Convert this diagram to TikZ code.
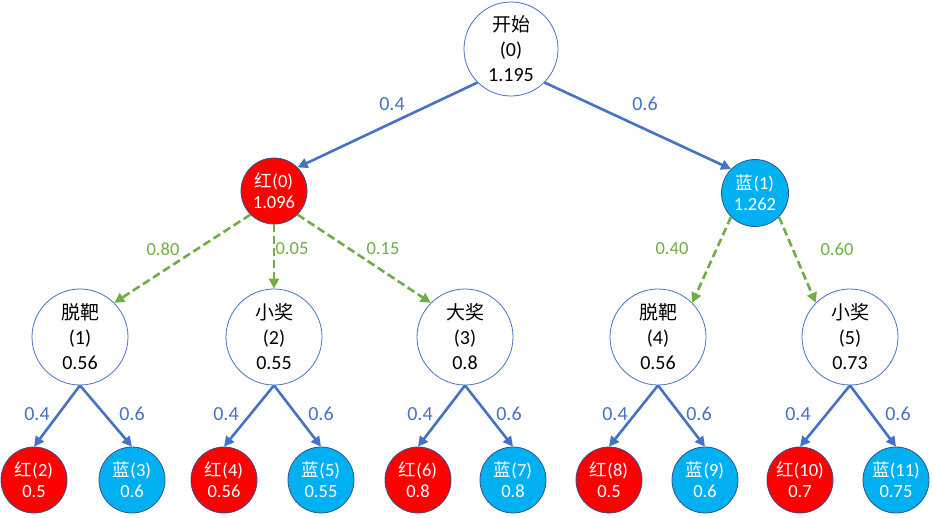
\documentclass[tikz,border=0pt]{standalone}
\usepackage{fontspec}
\setmainfont{Carlito}
\newfontfamily\cjk{Noto Sans CJK SC}[Scale=0.95]
\usetikzlibrary{arrows.meta}
\definecolor{edgeblue}{HTML}{4472C4}
\definecolor{edgegreen}{HTML}{70AD47}
\definecolor{redfill}{HTML}{FF0000}
\definecolor{bluefill}{HTML}{00B0F0}
\definecolor{rimdark}{HTML}{2F528F}
\begin{document}
\begin{tikzpicture}[x=1pt,y=-1pt,
  state/.style={circle, draw=edgeblue, line width=0.8pt, fill=white, inner sep=0pt,
    minimum size=#1, align=center, text=black, font=\fontsize{20}{25}\selectfont},
  state/.default=96pt,
  pick/.style={circle, draw=rimdark, line width=0.8pt, inner sep=0pt,
    minimum size=#1, align=center, text=white, font=\fontsize{18.5}{21}\selectfont},
  pick/.default=66pt,
  redball/.style={pick=#1, fill=redfill},
  redball/.default=66pt,
  blueball/.style={pick=#1, fill=bluefill},
  blueball/.default=66pt,
  solidedge/.style={draw=edgeblue, line width=2.6pt, -{Triangle[length=10pt,width=10pt]}},
  dashedge/.style={draw=edgegreen, line width=2.6pt, dash pattern=on 8pt off 4pt,
    -{Triangle[length=10pt,width=10pt]}},
  bluelbl/.style={text=edgeblue, font=\fontsize{20}{24}\selectfont, inner sep=0pt},
  greenlbl/.style={text=edgegreen, font=\fontsize{18.5}{22}\selectfont, inner sep=0pt},
]
\useasboundingbox (0,0) rectangle (933,517);

% decision nodes
\node[state=94pt] (root) at (511,49) {{\cjk 开始}\\(0)\\1.195};
\node[redball] (r0) at (274,191) {{\cjk 红}(0)\\1.096};
\node[blueball=67pt] (b1) at (755,193) {{\cjk 蓝}(1)\\1.262};

% outcome nodes
\node[state] (n1) at (80,337)  {{\cjk 脱靶}\\(1)\\0.56};
\node[state] (n2) at (274,337) {{\cjk 小奖}\\(2)\\0.55};
\node[state] (n3) at (465,337) {{\cjk 大奖}\\(3)\\0.8};
\node[state] (n4) at (658,337) {{\cjk 脱靶}\\(4)\\0.56};
\node[state] (n5) at (850,337) {{\cjk 小奖}\\(5)\\0.73};

% leaves
\node[redball]  (l2)  at (34,480)  {{\cjk 红}(2)\\0.5};
\node[blueball] (l3)  at (132,480) {{\cjk 蓝}(3)\\0.6};
\node[redball]  (l4)  at (224,480) {{\cjk 红}(4)\\0.56};
\node[blueball] (l5)  at (321,480) {{\cjk 蓝}(5)\\0.55};
\node[redball]  (l6)  at (418,480) {{\cjk 红}(6)\\0.8};
\node[blueball] (l7)  at (513,480) {{\cjk 蓝}(7)\\0.8};
\node[redball]  (l8)  at (609,480) {{\cjk 红}(8)\\0.5};
\node[blueball] (l9)  at (705,480) {{\cjk 蓝}(9)\\0.6};
\node[redball]  (l10) at (800,480) {{\cjk 红}(10)\\0.7};
\node[blueball] (l11) at (896,480) {{\cjk 蓝}(11)\\0.75};

% first choice
\draw[solidedge] (root.225) -- (r0.45);
\draw[solidedge] (root.-45) -- (b1.135);
\node[bluelbl] (p0) at (392,104) {0.4};
\node[bluelbl] (p1) at (645,104) {0.6};

% chance outcomes
\draw[dashedge] (r0.225) -- (n1.45);
\draw[dashedge] (r0.south) -- (n2.north);
\draw[dashedge] (r0.-45) -- (n3.135);
\draw[dashedge] (b1.225) -- (n4.45);
\draw[dashedge] (b1.-45) -- (n5.135);
\node[greenlbl] (q1) at (163,249) {0.80};
\node[greenlbl] (q2) at (292,249) {0.05};
\node[greenlbl] (q3) at (383,249) {0.15};
\node[greenlbl] (q4) at (672,249) {0.40};
\node[greenlbl] (q5) at (837,249) {0.60};

% second choice
\foreach \p/\a/\b in {n1/l2/l3, n2/l4/l5, n3/l6/l7, n4/l8/l9, n5/l10/l11}{
  \draw[solidedge] (\p.south) -- (\a.north);
  \draw[solidedge] (\p.south) -- (\b.north);
}
\node[bluelbl] (s1) at (37,414)  {0.4};
\node[bluelbl] (s2) at (132,414) {0.6};
\node[bluelbl] (s3) at (226,414) {0.4};
\node[bluelbl] (s4) at (321,414) {0.6};
\node[bluelbl] (s5) at (420,414) {0.4};
\node[bluelbl] (s6) at (509,414) {0.6};
\node[bluelbl] (s7) at (615,414) {0.4};
\node[bluelbl] (s8) at (699,414) {0.6};
\node[bluelbl] (s9) at (798,414) {0.4};
\node[bluelbl] (s10) at (898,414) {0.6};
\end{tikzpicture}
\end{document}
